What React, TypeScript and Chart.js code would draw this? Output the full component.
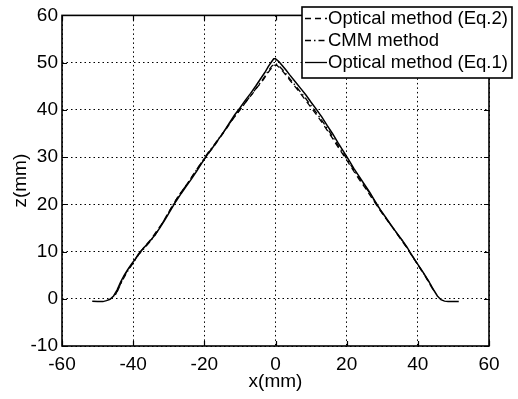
import React, { useEffect, useRef } from "react";
import { Chart, registerables } from "chart.js";

Chart.register(...registerables);

// Optical method (Eq.2) - dashed
const eq2X = [-45, -44, -43, -42, -41, -40, -39, -38, -36.5, -35, -33.5, -32, -30.5, -29, -27.5, -26, -24.5, -23, -21.5, -20, -18.5, -17, -15.5, -14, -12.5, -11, -9.5, -8, -6.5, -5, -3.5, -2.5, -1.5, -0.5, 0.3, 1, 2, 3, 4, 5.5, 7, 8.5, 10, 11.5, 13, 14.5, 16, 17.5, 19, 20.5, 22, 23.5, 25, 26.5, 28, 29.5, 31, 32.5, 34, 35.5, 37, 38.5, 40, 41.5, 43, 44.5];
const eq2Z = [0.8, 2.4, 4.1, 5.5, 6.6, 7.7, 8.8, 9.9, 11.3, 12.6, 14.2, 15.8, 17.7, 19.6, 21.5, 23.1, 24.7, 26.4, 28.1, 29.6, 31.1, 32.6, 34.2, 35.8, 37.5, 39.0, 40.5, 42.0, 43.4, 44.9, 46.3, 47.4, 48.5, 49.4, 49.5, 49.0, 48.2, 47.3, 46.3, 44.9, 43.5, 42.0, 40.5, 39.0, 37.4, 35.7, 34.0, 32.2, 30.5, 28.8, 27.0, 25.3, 23.7, 22.0, 20.3, 18.6, 17.0, 15.5, 13.9, 12.3, 10.7, 8.9, 7.2, 5.5, 3.6, 1.6];

// CMM method - dash-dot
const cmmX = [-44.5, -43, -41.5, -40, -38.5, -37, -35.5, -34, -32.5, -31, -29.5, -28, -26.5, -25, -23.5, -22, -20.5, -19, -17.5, -16, -14.5, -13, -11.5, -10, -8.5, -7, -5.5, -4, -3, -2, -1, 0, 1, 2, 3, 4, 5.5, 7, 8.5, 10, 11.5, 13, 14.5, 16, 17.5, 19, 20.5, 22, 23.5, 25, 26.5, 28, 29.5, 31, 32.5, 34, 35.5, 37, 38.5, 40, 41.5, 43, 44.5];
const cmmZ = [1.5, 3.9, 5.9, 7.6, 9.3, 10.6, 11.9, 13.3, 15.1, 17.0, 19.0, 20.9, 22.6, 24.1, 25.8, 27.5, 29.2, 30.9, 32.3, 33.9, 35.4, 37.0, 38.6, 40.0, 41.5, 43.0, 44.5, 46.0, 47.1, 48.3, 49.3, 49.8, 49.3, 48.5, 47.6, 46.6, 45.2, 43.8, 42.4, 40.9, 39.4, 37.8, 36.1, 34.4, 32.6, 30.8, 29.1, 27.3, 25.6, 24.0, 22.3, 20.5, 18.7, 17.1, 15.5, 14.0, 12.4, 10.8, 9.0, 7.2, 5.5, 3.7, 1.7];

// Optical method (Eq.1) - solid
const eq1X = [-51.5, -50, -48.5, -47.5, -46.5, -45.5, -44.5, -43.5, -42.5, -41.5, -40.5, -39.5, -38.5, -37, -35.5, -34, -32.5, -31, -29.5, -28, -26.5, -25, -23.5, -22, -20.5, -19, -17.5, -16, -14.5, -13, -11.5, -10, -8.5, -7, -5.5, -4, -3, -2, -1, -0.5, 0, 1, 2, 3, 4, 5.5, 7, 8.5, 10, 11.5, 13, 14.5, 16, 17.5, 19, 20.5, 22, 23.5, 25, 26.5, 28, 29.5, 31, 32.5, 34, 35.5, 37, 38.5, 40, 41.5, 43, 44.5, 45.5, 46.5, 47.5, 48.5, 50, 51.5];
const eq1Z = [-0.5, -0.6, -0.6, -0.4, -0.1, 0.6, 1.9, 3.6, 5.0, 6.2, 7.3, 8.3, 9.5, 10.8, 12.0, 13.4, 15.0, 16.8, 18.7, 20.6, 22.3, 23.9, 25.5, 27.2, 29.0, 30.7, 32.2, 33.8, 35.4, 37.2, 38.9, 40.4, 42.0, 43.5, 45.1, 46.8, 47.9, 49.2, 50.3, 50.8, 50.8, 50.2, 49.3, 48.4, 47.4, 46.0, 44.6, 43.2, 41.6, 40.1, 38.5, 36.7, 35.0, 33.1, 31.3, 29.5, 27.6, 25.9, 24.2, 22.5, 20.6, 18.8, 17.2, 15.6, 14.0, 12.5, 10.9, 9.0, 7.3, 5.6, 3.8, 1.8, 0.6, -0.2, -0.5, -0.6, -0.6, -0.6];

const seriesLabels = ["Optical method (Eq.2)", "CMM method", "Optical method (Eq.1)"];
const xTicks = [-60, -40, -20, 0, 20, 40, 60];
const yTicks = [-10, 0, 10, 20, 30, 40, 50, 60];

const FONT = "'Liberation Sans', Arial, Helvetica, sans-serif";

const toPts = (xs: number[], zs: number[]) => xs.map((x, i) => ({ x, y: zs[i] }));

const framePlugin = {
  id: "frameAndLegend",
  afterDraw(chart: any) {
    const { ctx, chartArea: a, scales } = chart;
    const xs = scales.x;
    const ys = scales.y;
    ctx.save();
    ctx.strokeStyle = "#000";
    ctx.lineWidth = 1.2;
    ctx.setLineDash([]);
    // inward ticks on four sides
    const tl = 5;
    ctx.beginPath();
    xTicks.forEach((v) => {
      const px = Math.round(xs.getPixelForValue(v)) + 0.5;
      ctx.moveTo(px, a.bottom);
      ctx.lineTo(px, a.bottom - tl);
      ctx.moveTo(px, a.top);
      ctx.lineTo(px, a.top + tl);
    });
    yTicks.forEach((v) => {
      const py = Math.round(ys.getPixelForValue(v)) + 0.5;
      ctx.moveTo(a.left, py);
      ctx.lineTo(a.left + tl, py);
      ctx.moveTo(a.right, py);
      ctx.lineTo(a.right - tl, py);
    });
    ctx.stroke();
    ctx.lineWidth = 1.6;
    ctx.strokeRect(a.left, a.top, a.right - a.left, a.bottom - a.top);

    // legend box
    const bx = 302, by = 7, bw = 210, bh = 71;
    ctx.fillStyle = "#fff";
    ctx.fillRect(bx, by, bw, bh);
    ctx.lineWidth = 1.6;
    ctx.strokeRect(bx, by, bw, bh);
    const rows = [18, 40, 62];
    ctx.font = `18.5px ${FONT}`;
    ctx.textBaseline = "middle";
    ctx.fillStyle = "#000";
    chart.data.datasets.forEach((ds: any, i: number) => {
      const y = rows[i] + 0.5;
      ctx.lineWidth = 1.3;
      ctx.setLineDash(ds.borderDash || []);
      ctx.beginPath();
      ctx.moveTo(305, y);
      ctx.lineTo(327, y);
      ctx.stroke();
      ctx.setLineDash([]);
      ctx.fillText(ds.label, 328, rows[i] + 1);
    });
    ctx.restore();
  },
};

export default function App() {
  const ref = useRef<HTMLCanvasElement | null>(null);
  useEffect(() => {
    if (!ref.current) return;
    const chart = new Chart(ref.current, {
      type: "scatter",
      data: {
        datasets: [
          { label: seriesLabels[0], data: toPts(eq2X, eq2Z), showLine: true, borderColor: "#000", borderWidth: 1.3, borderDash: [6, 4], pointRadius: 0, fill: false, tension: 0 },
          { label: seriesLabels[1], data: toPts(cmmX, cmmZ), showLine: true, borderColor: "#000", borderWidth: 1.3, borderDash: [6, 3, 1.5, 3], pointRadius: 0, fill: false, tension: 0 },
          { label: seriesLabels[2], data: toPts(eq1X, eq1Z), showLine: true, borderColor: "#000", borderWidth: 1.5, borderDash: [], pointRadius: 0, fill: false, tension: 0 },
        ],
      } as any,
      options: {
        animation: false,
        responsive: false,
        maintainAspectRatio: false,
        layout: { padding: { left: 0, top: 13, right: 29, bottom: 0 } },
        plugins: { legend: { display: false }, tooltip: { enabled: false } },
        scales: {
          x: {
            type: "linear",
            min: -60,
            max: 60,
            afterBuildTicks: (s: any) => { s.ticks = xTicks.map((v) => ({ value: v })); },
            afterFit: (s: any) => { s.height = 53; },
            grid: { color: "#000", lineWidth: 1, drawTicks: false },
            border: { display: false, dash: [1.5, 3] },
            ticks: { color: "#000", font: { family: FONT, size: 19 }, padding: 7, maxRotation: 0, autoSkip: false },
            title: { display: true, text: "x(mm)", color: "#000", font: { family: FONT, size: 19 }, padding: { top: 0, bottom: 6 } },
          },
          y: {
            type: "linear",
            min: -10,
            max: 60,
            afterBuildTicks: (s: any) => { s.ticks = yTicks.map((v) => ({ value: v })); },
            afterFit: (s: any) => { s.width = 62; },
            grid: { color: "#000", lineWidth: 1, drawTicks: false },
            border: { display: false, dash: [1.5, 3] },
            ticks: { color: "#000", font: { family: FONT, size: 19 }, padding: 4, autoSkip: false },
            title: { display: true, text: "z(mm)", color: "#000", font: { family: FONT, size: 19 }, padding: { top: 9, bottom: 0 } },
          },
        },
      } as any,
      plugins: [framePlugin],
    });
    return () => chart.destroy();
  }, []);
  return (
    <div style={{ position: "fixed", left: 0, top: 0, width: 518, height: 399, background: "#fff" }}>
      <canvas ref={ref} width={518} height={399} style={{ width: 518, height: 399, display: "block" }} />
    </div>
  );
}
